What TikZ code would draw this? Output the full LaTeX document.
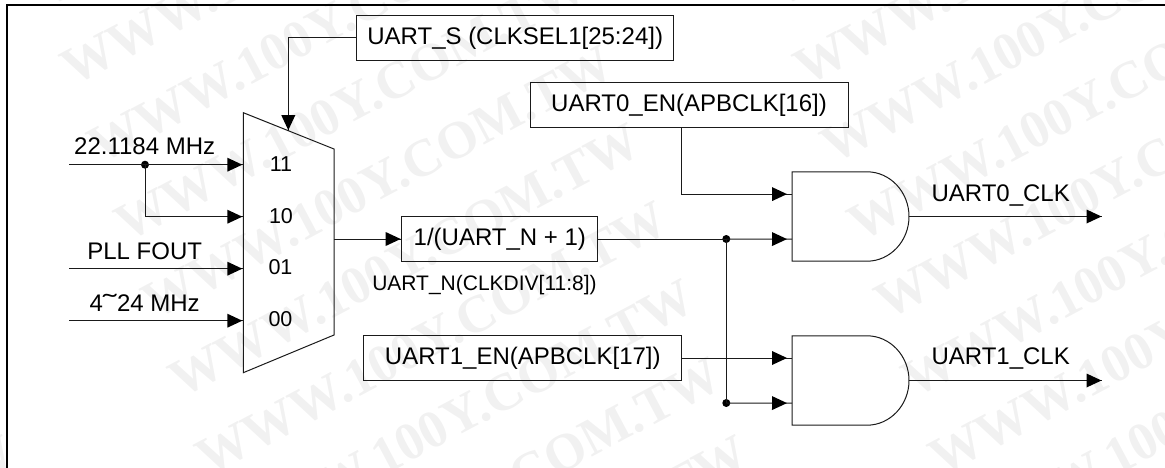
\documentclass[tikz,border=0pt]{standalone}
\usepackage{fontspec}
\setmainfont{Liberation Sans}
\newfontfamily\wmfont[BoldFont=Liberation Serif Bold]{Liberation Serif}
\usetikzlibrary{arrows.meta,decorations.markings}
\definecolor{wirecol}{HTML}{1A1A1A}
\definecolor{wmcol}{HTML}{F1F1F1}
\tikzset{
  wire/.style={draw=wirecol,line width=1pt},
  tipped/.style={wire,postaction={decorate},decoration={markings,
     mark=at position #1 with {\arrow{Triangle[length=15pt,width=14pt,fill=black,line width=0pt]}}}},
  tipped/.default={-1pt},
  regbox/.style={draw=wirecol,line width=1pt,inner sep=0pt,font=\fontsize{24}{28}\selectfont},
  biglabel/.style={anchor=base,inner sep=0pt,font=\fontsize{24}{28}\selectfont},
  smalllabel/.style={anchor=base,inner sep=0pt,font=\fontsize{21}{25}\selectfont},
  portlabel/.style={inner sep=0pt,font=\fontsize{21.5}{25}\selectfont},
  junction/.style={circle,fill=black,inner sep=0pt,minimum size=8pt},
  watermark/.style={anchor=base west,inner sep=0pt,rotate=28,text=wmcol,font=\wmfont\bfseries\fontsize{53}{60}\selectfont},
  gateoutline/.style={draw=wirecol,line width=1pt,fill=none}
}
\newcommand{\andgate}[2]{%
  \begin{scope}[shift={(792,#2)}]
    \draw[gateoutline] (0,0) -- (75,0) .. controls (98,0) and (117,20) .. (117,44.7)
      .. controls (117,69.4) and (98,89.4) .. (75,89.4) -- (0,89.4) -- cycle;
    \coordinate (#1-a) at (0,22.3);
    \coordinate (#1-b) at (0,67.3);
    \coordinate (#1-o) at (117,44.7);
  \end{scope}}
\newcommand{\wmrow}[2]{%
  \pgfmathsetmacro{\wx}{73+27*#1+733*#2}%
  \pgfmathsetmacro{\wy}{87+78*#1}%
  \node[watermark,name=wm#1x#2] at (\wx,\wy) {WWW.100Y.COM.TW};}
\begin{document}
\begin{tikzpicture}[x=1pt,y=-1pt]
\useasboundingbox (0,0) rectangle (1165,468);
% watermark
\foreach \i in {-1,...,8}{\wmrow{\i}{0}}
\foreach \i in {-1,...,6}{\wmrow{\i}{1}}
\wmrow{8}{-1}
% frame
\draw[black,line width=2pt] (7,468) -- (7,5.3) -- (1165,5.3);
% mux
\coordinate (mtl) at (243.3,112.7);
\coordinate (mtr) at (334,149);
\coordinate (mbr) at (334,335);
\coordinate (mbl) at (243.3,372.7);
\draw[wire] (mtl) -- (mtr) -- (mbr) -- (mbl) -- cycle;
\node[portlabel] (p11) at (281,164.5) {11};
\node[portlabel] (p10) at (281,216.5) {10};
\node[portlabel] (p01) at (280.5,267.5) {01};
\node[portlabel] (p00) at (280.5,319.5) {00};
\coordinate (m11) at (243.3,164.7);
\coordinate (m10) at (243.3,216.7);
\coordinate (m01) at (243.3,268.7);
\coordinate (m00) at (243.3,320.7);
\coordinate (mout) at (334,239);
\coordinate (msel) at (288.3,130.7);
% inputs
\coordinate (i11) at (69,164.7);
\coordinate (i01) at (69,268.7);
\coordinate (i00) at (69,320.7);
\node[junction] (j22) at (145,164.7) {};
\draw[tipped] (i11) -- (m11);
\draw[tipped] (j22.center) |- (m10);
\draw[tipped] (i01) -- (m01);
\draw[tipped] (i00) -- (m00);
\node[biglabel] (l22) at (144.7,155) {22.1184 MHz};
\node[biglabel] (lpll) at (144.7,259) {PLL FOUT};
\node[biglabel] (l4) at (144.7,311) {4\makebox[14pt]{\scalebox{1.7}[1]{\char"02DC}}24 MHz};
% register boxes
\node[regbox,minimum width=317.5pt,minimum height=44.5pt] (uarts) at (515.2,37.8) {UART\_S (CLKSEL1[25:24])};
\node[regbox,minimum width=318pt,minimum height=44.5pt] (en0) at (689,104.8) {UART0\_EN(APBCLK[16])};
\node[regbox,minimum width=317.7pt,minimum height=44.5pt] (en1) at (522.8,358) {UART1\_EN(APBCLK[17])};
\node[regbox,minimum width=196.3pt,minimum height=44.5pt] (div) at (499.8,239) {1/(UART\_N + 1)};
\node[smalllabel] (ndiv) at (484.5,290) {UART\_N(CLKDIV[11:8])};
\draw[tipped=-0.5pt] (uarts.west) -| (msel);
\draw[tipped=-0.5pt] (mout) -- (div.west);
% and gates
\andgate{g0}{171.8}
\andgate{g1}{335.8}
\draw[tipped=-5pt] (en0.south -| 681.5,0) |- (g0-a);
\node[junction] (jtop) at (726.3,239) {};
\node[junction] (jbot) at (726.3,403) {};
\draw[wire] (div.east) -- (jtop.center);
\draw[tipped=-5pt] (jtop.center) -- (g0-b);
\draw[wire] (jtop.center) -- (jbot.center);
\draw[tipped=-5pt] (en1.east) -- (en1.east -| g1-a);
\draw[tipped=-5pt] (jbot.center) -- (g1-b);
% outputs
\coordinate (o0) at (1102,216.5);
\coordinate (o1) at (1102,380.5);
\draw[tipped=-0.5pt] (g0-o) -- (o0);
\draw[tipped=-0.5pt] (g1-o) -- (o1);
\node[biglabel] (l0) at (1000.7,201.7) {UART0\_CLK};
\node[biglabel] (l1) at (1000.7,364.3) {UART1\_CLK};
\end{tikzpicture}
\end{document}
